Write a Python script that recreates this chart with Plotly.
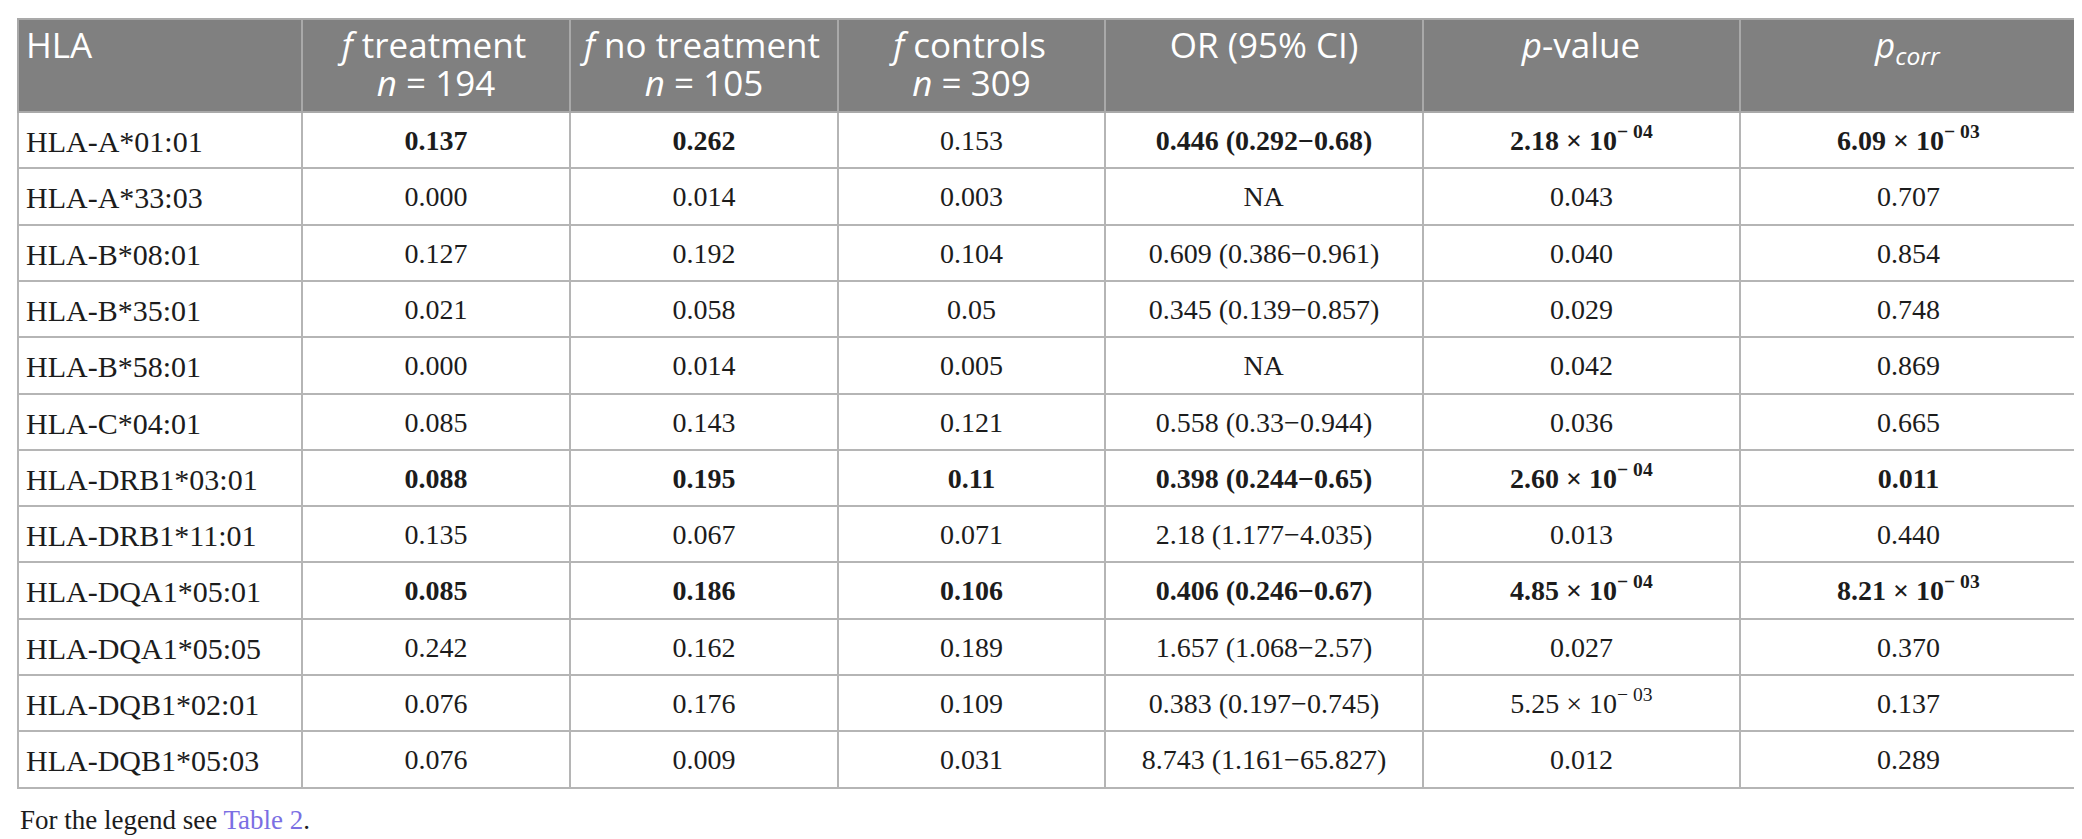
import plotly.graph_objects as go

# ---------------- data ----------------
hla = ["HLA-A*01:01", "HLA-A*33:03", "HLA-B*08:01", "HLA-B*35:01", "HLA-B*58:01",
       "HLA-C*04:01", "HLA-DRB1*03:01", "HLA-DRB1*11:01", "HLA-DQA1*05:01",
       "HLA-DQA1*05:05", "HLA-DQB1*02:01", "HLA-DQB1*05:03"]
f_treatment = ["0.137", "0.000", "0.127", "0.021", "0.000", "0.085", "0.088", "0.135",
               "0.085", "0.242", "0.076", "0.076"]
f_no_treatment = ["0.262", "0.014", "0.192", "0.058", "0.014", "0.143", "0.195", "0.067",
                  "0.186", "0.162", "0.176", "0.009"]
f_controls = ["0.153", "0.003", "0.104", "0.05", "0.005", "0.121", "0.11", "0.071",
              "0.106", "0.189", "0.109", "0.031"]
or_ci = ["0.446 (0.292−0.68)", "NA", "0.609 (0.386−0.961)", "0.345 (0.139−0.857)", "NA",
         "0.558 (0.33−0.944)", "0.398 (0.244−0.65)", "2.18 (1.177−4.035)",
         "0.406 (0.246−0.67)", "1.657 (1.068−2.57)", "0.383 (0.197−0.745)",
         "8.743 (1.161−65.827)"]
p_value = ["2.18 × 10<sup>− 04</sup>", "0.043", "0.040", "0.029", "0.042", "0.036",
           "2.60 × 10<sup>− 04</sup>", "0.013", "4.85 × 10<sup>− 04</sup>", "0.027",
           "5.25 × 10<sup>− 03</sup>", "0.012"]
p_corr = ["6.09 × 10<sup>− 03</sup>", "0.707", "0.854", "0.748", "0.869", "0.665",
          "0.011", "0.440", "8.21 × 10<sup>− 03</sup>", "0.370", "0.137", "0.289"]

# which cells are bold: row index -> column keys
bold_cells = {
    0: ["f_treatment", "f_no_treatment", "or_ci", "p_value", "p_corr"],
    6: ["f_treatment", "f_no_treatment", "f_controls", "or_ci", "p_value", "p_corr"],
    8: ["f_treatment", "f_no_treatment", "f_controls", "or_ci", "p_value", "p_corr"],
}

header_line1 = ["HLA", "<i>f</i> treatment", "<i>f</i> no treatment", "<i>f</i> controls",
                "OR (95% CI)", "<i>p</i>-value", "<i>p<sub>corr</sub></i>"]
header_line2 = ["", "<i>n</i> = 194", "<i>n</i> = 105", "<i>n</i> = 309", "", "", ""]
col_widths = [284, 268, 268, 267, 318, 317, 337]

footer_text = "For the legend see "
footer_link = "Table 2"

# ---------------- build ----------------
def span(v):
    return "<span>" + v + "</span>" if v else ""


def apply_bold(key, vals):
    return [span("<b>" + v + "</b>") if key in bold_cells.get(i, []) else span(v)
            for i, v in enumerate(vals)]

columns = [
    [span(v) for v in hla],
    apply_bold("f_treatment", f_treatment),
    apply_bold("f_no_treatment", f_no_treatment),
    apply_bold("f_controls", f_controls),
    apply_bold("or_ci", or_ci),
    apply_bold("p_value", p_value),
    apply_bold("p_corr", p_corr),
]
ncol = len(columns)
nrow = len(hla)
plain_cols = [[v if "<sup>" not in v else "" for v in col] for col in columns]
sup_cols = [[v if "<sup>" in v else "" for v in col] for col in columns]

W, H = 2082, 839
X0, X1, TOP = 10, 2069, 11          # table frame in pixels
HEAD_H, ROW_H = 93, 56.3
CLEAR = "rgba(0,0,0,0)"
align = ["left"] + ["center"] * (ncol - 1)
head_font = dict(family="Open Sans", size=35, color="white")
body_font = dict(family="Liberation Serif", size=[30] + [28] * (ncol - 1), color="#1c1c1c")


def dom(offset):
    return dict(x=[X0 / W, X1 / W], y=[0, min(1.0, 1 - (TOP + offset) / H)])


def blank_cells():
    return dict(values=[[""] for _ in range(ncol)], fill_color=CLEAR,
                line=dict(color=CLEAR, width=0), height=ROW_H)


fig = go.Figure()

# grid: fills and borders
fig.add_trace(go.Table(
    columnwidth=col_widths, domain=dom(0),
    header=dict(values=[""] * ncol, fill_color="#808080",
                line=dict(color="#a9a9a9", width=2), height=HEAD_H),
    cells=dict(values=[[""] * nrow for _ in range(ncol)], fill_color="white",
               line=dict(color="#b5b5b5", width=2), height=ROW_H),
))

# header text: first and second line
for vals, off in [([span(v) for v in header_line1], -6), ([span(v) for v in header_line2], 32)]:
    fig.add_trace(go.Table(
        columnwidth=col_widths, domain=dom(off),
        header=dict(values=vals, fill_color=CLEAR, line=dict(color=CLEAR, width=0),
                    font=head_font, align=align, height=HEAD_H),
        cells=blank_cells(),
    ))

# body text: plain cells and cells carrying a superscript
for vals, off in [(plain_cols, 5), (sup_cols, 1)]:
    fig.add_trace(go.Table(
        columnwidth=col_widths, domain=dom(off),
        header=dict(values=[""] * ncol, fill_color=CLEAR,
                    line=dict(color=CLEAR, width=0), height=HEAD_H),
        cells=dict(values=vals, fill_color=CLEAR, line=dict(color=CLEAR, width=0),
                   font=body_font, align=align, height=ROW_H),
    ))

fig.add_annotation(
    x=X0 / W, y=1 - 812 / H, xref="paper", yref="paper",
    xanchor="left", yanchor="middle", showarrow=False,
    text=footer_text + "<span style='color:#7b6fe3'>" + footer_link + "</span>.",
    font=dict(family="Liberation Serif", size=27, color="#1c1c1c"),
)

fig.update_layout(
    width=W, height=H,
    margin=dict(l=0, r=0, t=0, b=0),
    paper_bgcolor="white",
    plot_bgcolor="white",
)

fig.write_html("out.html")
